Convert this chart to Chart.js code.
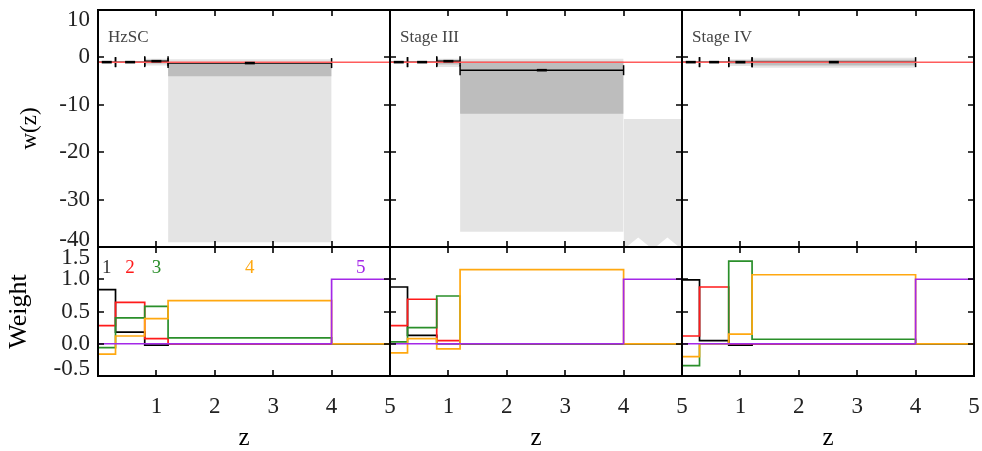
<!DOCTYPE html>
<html><head><meta charset="utf-8">
<script src="https://cdn.jsdelivr.net/npm/chart.js@4"></script>
<style>
html,body{margin:0;padding:0;background:#fff;}
#wrap{position:relative;width:982px;height:451px;overflow:hidden;background:#fff;}
canvas{position:absolute;left:0;top:0;}
</style></head><body><div id="wrap">
<canvas id="t0" width="982" height="451"></canvas>
<canvas id="t1" width="982" height="451"></canvas>
<canvas id="t2" width="982" height="451"></canvas>
<canvas id="b0" width="982" height="451"></canvas>
<canvas id="b1" width="982" height="451"></canvas>
<canvas id="b2" width="982" height="451"></canvas>
</div>
<script>
// ---------------- data ----------------
const zEdges = [0, 0.3, 0.8, 1.2, 4.0, 5.0];
const binCenters = [0.15, 0.55, 1.0, 2.6, 4.5];
const panelNames = ['HzSC', 'Stage III', 'Stage IV'];
const legendLabels = ['1', '2', '3', '4', '5'];
const zTickLabels = ['', '1', '2', '3', '4', '5'];
const wFiducial = -1;

// top row: w(z) per bin, error-bar centres and shaded bands
const hzscW       = [-1.0, -1.0, -0.8, -1.2, null];
const hzscLightHi = [null, null, -0.3, -0.4, null];
const hzscLightLo = [null, null, -1.7, -39.0, null];
const hzscDarkHi  = [null, null, -0.5, -1.1, null];
const hzscDarkLo  = [null, null, -1.3, -4.0, null];

const stage3W       = [-1.0, -1.0, -0.8, -2.7, null];
const stage3LightHi = [null, null, -0.3, -0.3, -13.0];
const stage3LightLo = [null, null, -2.0, -36.8, -40.5];
const stage3DarkHi  = [null, null, -0.5, -0.8, null];
const stage3DarkLo  = [null, null, -1.5, -11.9, null];
const stage3Bin5LowZ = [4.25, 4.5, 4.75];
const stage3Bin5LowW = [-38.0, -40.5, -38.0];

const stage4W       = [-1.0, -1.0, -1.0, -1.0, null];
const stage4LightHi = [null, null, -0.4, -0.1, null];
const stage4LightLo = [null, null, -1.8, -2.2, null];
const stage4DarkHi  = [null, null, -0.6, -0.5, null];
const stage4DarkLo  = [null, null, -1.4, -1.7, null];

// bottom row: weight functions (value per z bin)
const hzscWeight1 = [0.84, 0.18, -0.02, 0.0, 0.0];
const hzscWeight2 = [0.28, 0.64, 0.08, 0.0, 0.0];
const hzscWeight3 = [-0.06, 0.40, 0.58, 0.09, 0.0];
const hzscWeight4 = [-0.16, 0.12, 0.39, 0.67, 0.0];
const hzscWeight5 = [0.0, 0.0, 0.0, 0.0, 1.0];

const stage3Weight1 = [0.88, 0.13, 0.0, 0.0, 0.0];
const stage3Weight2 = [0.28, 0.69, 0.05, 0.0, 0.0];
const stage3Weight3 = [0.03, 0.25, 0.74, 0.0, 0.0];
const stage3Weight4 = [-0.14, 0.08, -0.08, 1.15, 0.0];
const stage3Weight5 = [0.0, 0.0, 0.0, 0.0, 1.0];

const stage4Weight1 = [0.99, 0.05, -0.02, 0.0, 0.0];
const stage4Weight2 = [0.12, 0.88, 0.0, 0.0, 0.0];
const stage4Weight3 = [-0.34, 0.0, 1.28, 0.07, 0.0];
const stage4Weight4 = [-0.20, 0.0, 0.15, 1.07, 0.0];
const stage4Weight5 = [0.0, 0.0, 0.0, 0.0, 1.0];

// ---------------- styling / layout ----------------
const SERIF = "'Liberation Serif', 'Times New Roman', serif";
const W = 982, H = 451;
const colLeft = [98, 390, 682], colRight = [390, 682, 974];
const topY = 10, midY = 247, botY = 376;
const weightColors = ['#000000', '#ff1a1a', '#2a8f2a', '#ffa810', '#a428e8'];
const LIGHT = '#e4e4e4', DARK = '#bdbdbd';

const decor = {
  id: 'decor',
  afterDatasetsDraw(chart, args, opts) {
    const {ctx, chartArea: a, scales} = chart;
    const xs = scales.x, ys = scales.y;
    ctx.save();
    ctx.strokeStyle = '#000';
    ctx.lineWidth = 1.6;
    const L = 6;
    ctx.beginPath();
    xs.ticks.forEach(t => {
      if (t.value > xs.min && t.value < xs.max) {
        const p = Math.round(xs.getPixelForValue(t.value));
        ctx.moveTo(p, a.bottom); ctx.lineTo(p, a.bottom - L);
        ctx.moveTo(p, a.top); ctx.lineTo(p, a.top + L);
      }
    });
    ys.ticks.forEach(t => {
      if (t.value > ys.min && t.value < ys.max) {
        const p = Math.round(ys.getPixelForValue(t.value));
        ctx.moveTo(a.left, p); ctx.lineTo(a.left + L, p);
        ctx.moveTo(a.right, p); ctx.lineTo(a.right - L, p);
      }
    });
    ctx.stroke();
    ctx.lineWidth = 2;
    ctx.strokeRect(a.left, a.top, a.right - a.left, a.bottom - a.top);
    if (opts.label) {
      ctx.font = '17px ' + SERIF;
      ctx.fillStyle = '#444';
      ctx.textAlign = 'left';
      ctx.textBaseline = 'alphabetic';
      ctx.fillText(opts.label, a.left + 10, a.top + 32);
    }
    if (opts.legend) {
      ctx.font = '19px ' + SERIF;
      ctx.textAlign = 'center';
      ctx.textBaseline = 'alphabetic';
      opts.legend.forEach((txt, i) => {
        ctx.fillStyle = i === 0 ? '#333' : weightColors[i];
        ctx.fillText(txt, xs.getPixelForValue(binCenters[i]), ys.getPixelForValue(1.1));
      });
    }
    ctx.restore();
  }
};

function baseOptions(col, top) {
  return {
    responsive: false, animation: false, devicePixelRatio: 1, events: [],
    layout: { padding: {
      left: col === 0 ? 0 : colLeft[col],
      right: W - colRight[col],
      top: top ? topY : midY,
      bottom: top ? H - midY : 0 } },
    elements: { line: { tension: 0 } },
    plugins: { legend: { display: false }, tooltip: { enabled: false } },
  };
}

function addBand(ds, hi, lo, color, order, extra) {
  hi.forEach((h, i) => {
    if (h == null) return;
    const loPts = [{x: zEdges[i], y: lo[i]}];
    if (extra && extra.bin === i) extra.z.forEach((z, k) => loPts.push({x: z, y: extra.w[k]}));
    loPts.push({x: zEdges[i + 1], y: lo[i]});
    ds.push({data: [{x: zEdges[i], y: h}, {x: zEdges[i + 1], y: h}], fill: '+1', backgroundColor: color,
             borderColor: 'rgba(0,0,0,0)', borderWidth: 0, pointRadius: 0, order});
    ds.push({data: loPts, fill: false, borderColor: 'rgba(0,0,0,0)', borderWidth: 0, pointRadius: 0, order});
  });
}

function topPanel(id, col, w, lHi, lLo, dHi, dLo, extra) {
  const ds = [];
  ds.push({data: binCenters.map((z, i) => ({x: z, y: w[i]})).filter(p => p.y != null),
           showLine: false, pointStyle: 'line', pointRadius: 5, pointBorderWidth: 2.6,
           pointBorderColor: '#000', pointBackgroundColor: '#000', order: 0});
  ds.push({data: [{x: zEdges[0], y: wFiducial}, {x: zEdges[zEdges.length - 1], y: wFiducial}],
           borderColor: '#ff5c5c', borderWidth: 1.5, pointRadius: 0, fill: false, order: 1});
  const eb = [];
  w.forEach((v, i) => { if (v == null) return; eb.push({x: zEdges[i], y: v}, {x: zEdges[i + 1], y: v}, {x: zEdges[i + 1], y: null}); });
  ds.push({data: eb, borderColor: '#000', borderWidth: 1.5, fill: false, spanGaps: false,
           pointStyle: 'line', pointRotation: 90, pointRadius: 5, pointBorderWidth: 1.5,
           pointBorderColor: '#000', order: 2});
  addBand(ds, dHi, dLo, DARK, 3, null);
  addBand(ds, lHi, lLo, LIGHT, 4, extra);

  const opt = baseOptions(col, true);
  opt.plugins.decor = {label: panelNames[col]};
  opt.scales = {
    x: {type: 'linear', min: 0, max: 5, display: false, ticks: {stepSize: 1}},
    y: {type: 'linear', min: -40, max: 10, display: col === 0, position: 'left',
        grid: {display: false, drawTicks: false}, border: {display: false},
        ticks: {stepSize: 10, autoSkip: false, padding: 8, color: '#222',
          callback: v => v === 10 ? ['', '10'] : (v === -40 ? ['-40', ''] : String(v)),
          font: c => ({family: SERIF, size: 23,
            lineHeight: c.tick && c.tick.value === 10 ? '20px' : (c.tick && c.tick.value === -40 ? '14px' : 1.2)})},
        title: {display: col === 0, text: 'w(z)', color: '#000',
          font: {family: SERIF, size: 23, lineHeight: 1}, padding: {top: 18, bottom: 0}},
        afterFit: s => { if (col === 0) { s.width = colLeft[0]; } s.paddingTop = 0; s.paddingBottom = 0; }}
  };
  new Chart(document.getElementById(id), {type: 'line', data: {datasets: ds}, options: opt, plugins: [decor]});
}

function bottomPanel(id, col, series) {
  const ds = series.map((vals, k) => ({
    data: zEdges.map((z, i) => ({x: z, y: vals[Math.min(i, vals.length - 1)]})),
    stepped: true, borderColor: weightColors[k], borderWidth: 1.7, pointRadius: 0, fill: false,
    order: series.length - 1 - k
  }));
  const opt = baseOptions(col, false);
  opt.plugins.decor = col === 0 ? {legend: legendLabels} : {};
  opt.scales = {
    x: {type: 'linear', min: 0, max: 5, display: true, position: 'bottom',
        grid: {display: false, drawTicks: false}, border: {display: false},
        ticks: {stepSize: 1, autoSkip: false, maxRotation: 0, padding: 17, color: '#222',
          font: {family: SERIF, size: 23}, callback: (v, i) => zTickLabels[i]},
        title: {display: true, text: 'z', color: '#000', font: {family: SERIF, size: 25, lineHeight: 1},
          padding: {top: 0, bottom: 0}},
        afterFit: s => { s.height = H - botY; s.paddingLeft = 0; s.paddingRight = 0; }},
    y: {type: 'linear', min: -0.5, max: 1.5, display: col === 0, position: 'left',
        grid: {display: false, drawTicks: false}, border: {display: false},
        ticks: {stepSize: 0.5, autoSkip: false, padding: 8, color: '#222',
          callback: v => v === 1.5 ? ['', '1.5'] : (v === -0.5 ? ['-0.5', ''] : v.toFixed(1)),
          font: c => ({family: SERIF, size: 23,
            lineHeight: c.tick && c.tick.value === 1.5 ? '22px' : (c.tick && c.tick.value === -0.5 ? '14px' : 1.2)})},
        title: {display: col === 0, text: 'Weight', color: '#000',
          font: {family: SERIF, size: 26, lineHeight: 1}, padding: {top: 6, bottom: 0}},
        afterFit: s => { if (col === 0) { s.width = colLeft[0]; } s.paddingTop = 0; s.paddingBottom = 0; }}
  };
  new Chart(document.getElementById(id), {type: 'line', data: {datasets: ds}, options: opt, plugins: [decor]});
}

topPanel('t0', 0, hzscW, hzscLightHi, hzscLightLo, hzscDarkHi, hzscDarkLo, null);
topPanel('t1', 1, stage3W, stage3LightHi, stage3LightLo, stage3DarkHi, stage3DarkLo,
         {bin: 4, z: stage3Bin5LowZ, w: stage3Bin5LowW});
topPanel('t2', 2, stage4W, stage4LightHi, stage4LightLo, stage4DarkHi, stage4DarkLo, null);

bottomPanel('b0', 0, [hzscWeight1, hzscWeight2, hzscWeight3, hzscWeight4, hzscWeight5]);
bottomPanel('b1', 1, [stage3Weight1, stage3Weight2, stage3Weight3, stage3Weight4, stage3Weight5]);
bottomPanel('b2', 2, [stage4Weight1, stage4Weight2, stage4Weight3, stage4Weight4, stage4Weight5]);
</script></body></html>
